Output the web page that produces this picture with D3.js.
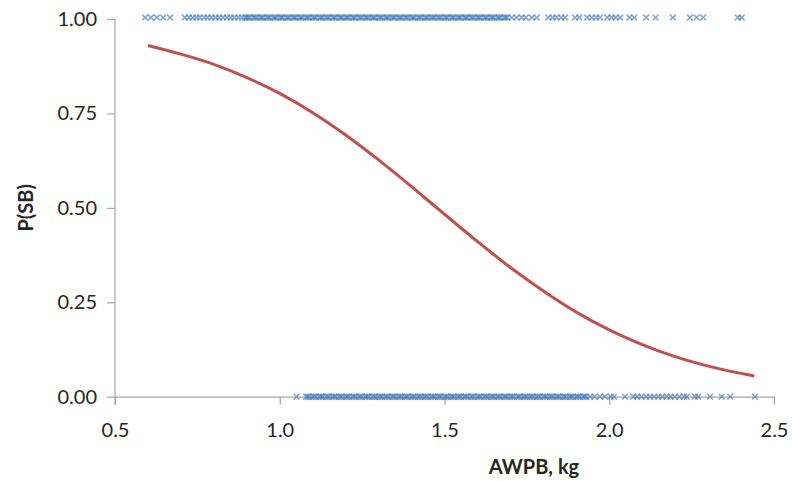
<!DOCTYPE html>
<html>
<head>
<meta charset="utf-8">
<script src="https://cdn.jsdelivr.net/npm/d3@7"></script>
<style>
  body { margin: 0; background: #fff; }
  svg { display: block; font-family: Lato, "Open Sans", sans-serif; }
</style>
</head>
<body>
<div id="chart"></div>
<script>
// observed outcomes, SB = 1 (top row)
const sbYes = [
  0.591, 0.609, 0.627, 0.646, 0.667,
  0.712, 0.724, 0.736, 0.747, 0.758, 0.770, 0.781, 0.793, 0.805, 0.816, 0.828, 0.840,
  0.851, 0.862, 0.874, 0.885, 0.895,
  0.90, 0.91, 0.92, 0.93, 0.94, 0.95, 0.96, 0.97, 0.98, 0.99,
  1.00, 1.01, 1.02, 1.03, 1.04, 1.05, 1.06, 1.07, 1.08, 1.09,
  1.10, 1.11, 1.12, 1.13, 1.14, 1.15, 1.16, 1.17, 1.18, 1.19,
  1.20, 1.21, 1.22, 1.23, 1.24, 1.25, 1.26, 1.27, 1.28, 1.29,
  1.30, 1.31, 1.32, 1.33, 1.34, 1.35, 1.36, 1.37, 1.38, 1.39,
  1.40, 1.41, 1.42, 1.43, 1.44, 1.45, 1.46, 1.47, 1.48, 1.49,
  1.50, 1.51, 1.52, 1.53, 1.54, 1.55, 1.56, 1.57, 1.58, 1.59,
  1.60, 1.61, 1.62, 1.63, 1.64, 1.65, 1.66, 1.67, 1.68, 1.69,
  0.905, 0.925, 0.945, 0.965, 0.985, 1.005, 1.025, 1.045, 1.065, 1.085,
  1.105, 1.125, 1.145, 1.165, 1.185, 1.205, 1.225, 1.245, 1.265, 1.285,
  1.305, 1.325, 1.345, 1.365, 1.385, 1.405, 1.425, 1.445, 1.465, 1.485,
  1.505, 1.525, 1.545, 1.565, 1.585, 1.605, 1.625, 1.645, 1.665, 1.685,
  1.704, 1.719, 1.734, 1.747, 1.765, 1.780,
  1.815, 1.828, 1.840, 1.854, 1.866, 1.896, 1.909,
  1.933, 1.947, 1.960, 1.972, 1.994, 2.007, 2.020, 2.033,
  2.061, 2.076, 2.112, 2.141, 2.193, 2.245, 2.265, 2.285, 2.390, 2.402
];

// observed outcomes, SB = 0 (bottom row)
const sbNo = [
  1.051,
  1.08, 1.09, 1.10, 1.11, 1.12, 1.13, 1.14, 1.15, 1.16, 1.17, 1.18, 1.19,
  1.20, 1.21, 1.22, 1.23, 1.24, 1.25, 1.26, 1.27, 1.28, 1.29,
  1.30, 1.31, 1.32, 1.33, 1.34, 1.35, 1.36, 1.37, 1.38, 1.39,
  1.40, 1.41, 1.42, 1.43, 1.44, 1.45, 1.46, 1.47, 1.48, 1.49,
  1.50, 1.51, 1.52, 1.53, 1.54, 1.55, 1.56, 1.57, 1.58, 1.59,
  1.60, 1.61, 1.62, 1.63, 1.64, 1.65, 1.66, 1.67, 1.68, 1.69,
  1.70, 1.71, 1.72, 1.73, 1.74, 1.75, 1.76, 1.77, 1.78, 1.79,
  1.80, 1.81, 1.82, 1.83, 1.84, 1.85, 1.86, 1.87, 1.88, 1.89,
  1.90, 1.91, 1.92, 1.93,
  1.085, 1.105, 1.125, 1.145, 1.165, 1.185, 1.205, 1.225, 1.245, 1.265,
  1.285, 1.305, 1.325, 1.345, 1.365, 1.385, 1.405, 1.425, 1.445, 1.465,
  1.485, 1.505, 1.525, 1.545, 1.565, 1.585, 1.605, 1.625, 1.645, 1.665,
  1.685, 1.705, 1.725, 1.745, 1.765, 1.785, 1.805, 1.825, 1.845, 1.865,
  1.885, 1.905, 1.925,
  1.942, 1.955, 1.972, 1.987, 2.004, 2.014, 2.048, 2.073, 2.085, 2.098,
  2.112, 2.124, 2.136, 2.149, 2.161, 2.174, 2.186, 2.199, 2.213, 2.227,
  2.235, 2.260, 2.270, 2.306, 2.341, 2.367, 2.442
];

// fitted probability curve
const curveX = [0.6, 0.7, 0.8, 0.9, 1.0, 1.1, 1.2, 1.3, 1.4, 1.5, 1.6, 1.7, 1.8, 1.9, 2.0, 2.1, 2.2, 2.3, 2.44];
const curveP = [0.930, 0.907, 0.880, 0.845, 0.803, 0.752, 0.693, 0.627, 0.556, 0.483, 0.411, 0.342, 0.280, 0.224, 0.177, 0.138, 0.106, 0.081, 0.055];

const xTicks = [0.5, 1.0, 1.5, 2.0, 2.5];
const yTicks = [0, 0.25, 0.5, 0.75, 1];

const width = 792, height = 482;
const axisColor = "#a6a6a6";
const textColor = "#262626";

const svg = d3.select("#chart").append("svg")
    .attr("width", width)
    .attr("height", height);

const x = d3.scaleLinear().domain([0.5, 2.5]).range([115, 774]);
const y = d3.scaleLinear().domain([0, 1]).range([396.7, 19]);

// axes
const xAxis = svg.append("g")
    .attr("transform", `translate(0,${y(0)})`)
    .call(d3.axisBottom(x).tickValues(xTicks).tickFormat(d3.format(".1f")).tickSize(8).tickSizeOuter(0).tickPadding(18));

const yAxis = svg.append("g")
    .attr("transform", `translate(${x(0.5)},0)`)
    .call(d3.axisLeft(y).tickValues(yTicks).tickFormat(d3.format(".2f")).tickSize(8).tickSizeOuter(0).tickPadding(10));

[xAxis, yAxis].forEach(g => {
  g.selectAll(".domain, line").attr("stroke", axisColor).attr("stroke-width", 1.2);
  g.selectAll("text").attr("fill", textColor).attr("font-size", 20).attr("font-family", "Lato, sans-serif");
});
// y axis line runs down past the x axis like in the original
yAxis.select(".domain").attr("d", `M0,${y(1)}V${y(0) + 8}`);

// axis titles
svg.append("text")
    .attr("x", 534)
    .attr("y", 474)
    .attr("text-anchor", "middle")
    .attr("font-size", 20)
    .attr("font-weight", "bold")
    .attr("fill", textColor)
    .text("AWPB, kg");

svg.append("text")
    .attr("transform", `translate(33,${y(0.5)}) rotate(-90)`)
    .attr("text-anchor", "middle")
    .attr("font-size", 20)
    .attr("font-weight", "bold")
    .attr("fill", textColor)
    .text("P(SB)");

// scatter marks
const cross = d3.symbol().type(d3.symbolX).size(24);
const points = sbYes.map(v => ({ v, p: 1 })).concat(sbNo.map(v => ({ v, p: 0 })));

svg.append("g")
    .attr("fill", "none")
    .attr("stroke", "#4a7ebb")
    .attr("stroke-width", 1.6)
    .attr("stroke-opacity", 0.65)
  .selectAll("path")
  .data(points)
  .join("path")
    .attr("transform", d => `translate(${x(d.v)},${y(d.p) - (d.p === 1 ? 1.5 : 0)})`)
    .attr("d", cross);

// probability curve
const line = d3.line()
    .x((d, i) => x(curveX[i]))
    .y(d => y(d))
    .curve(d3.curveMonotoneX);

svg.append("path")
    .datum(curveP)
    .attr("fill", "none")
    .attr("stroke", "#c0504d")
    .attr("stroke-width", 3)
    .attr("d", line);
</script>
</body>
</html>
